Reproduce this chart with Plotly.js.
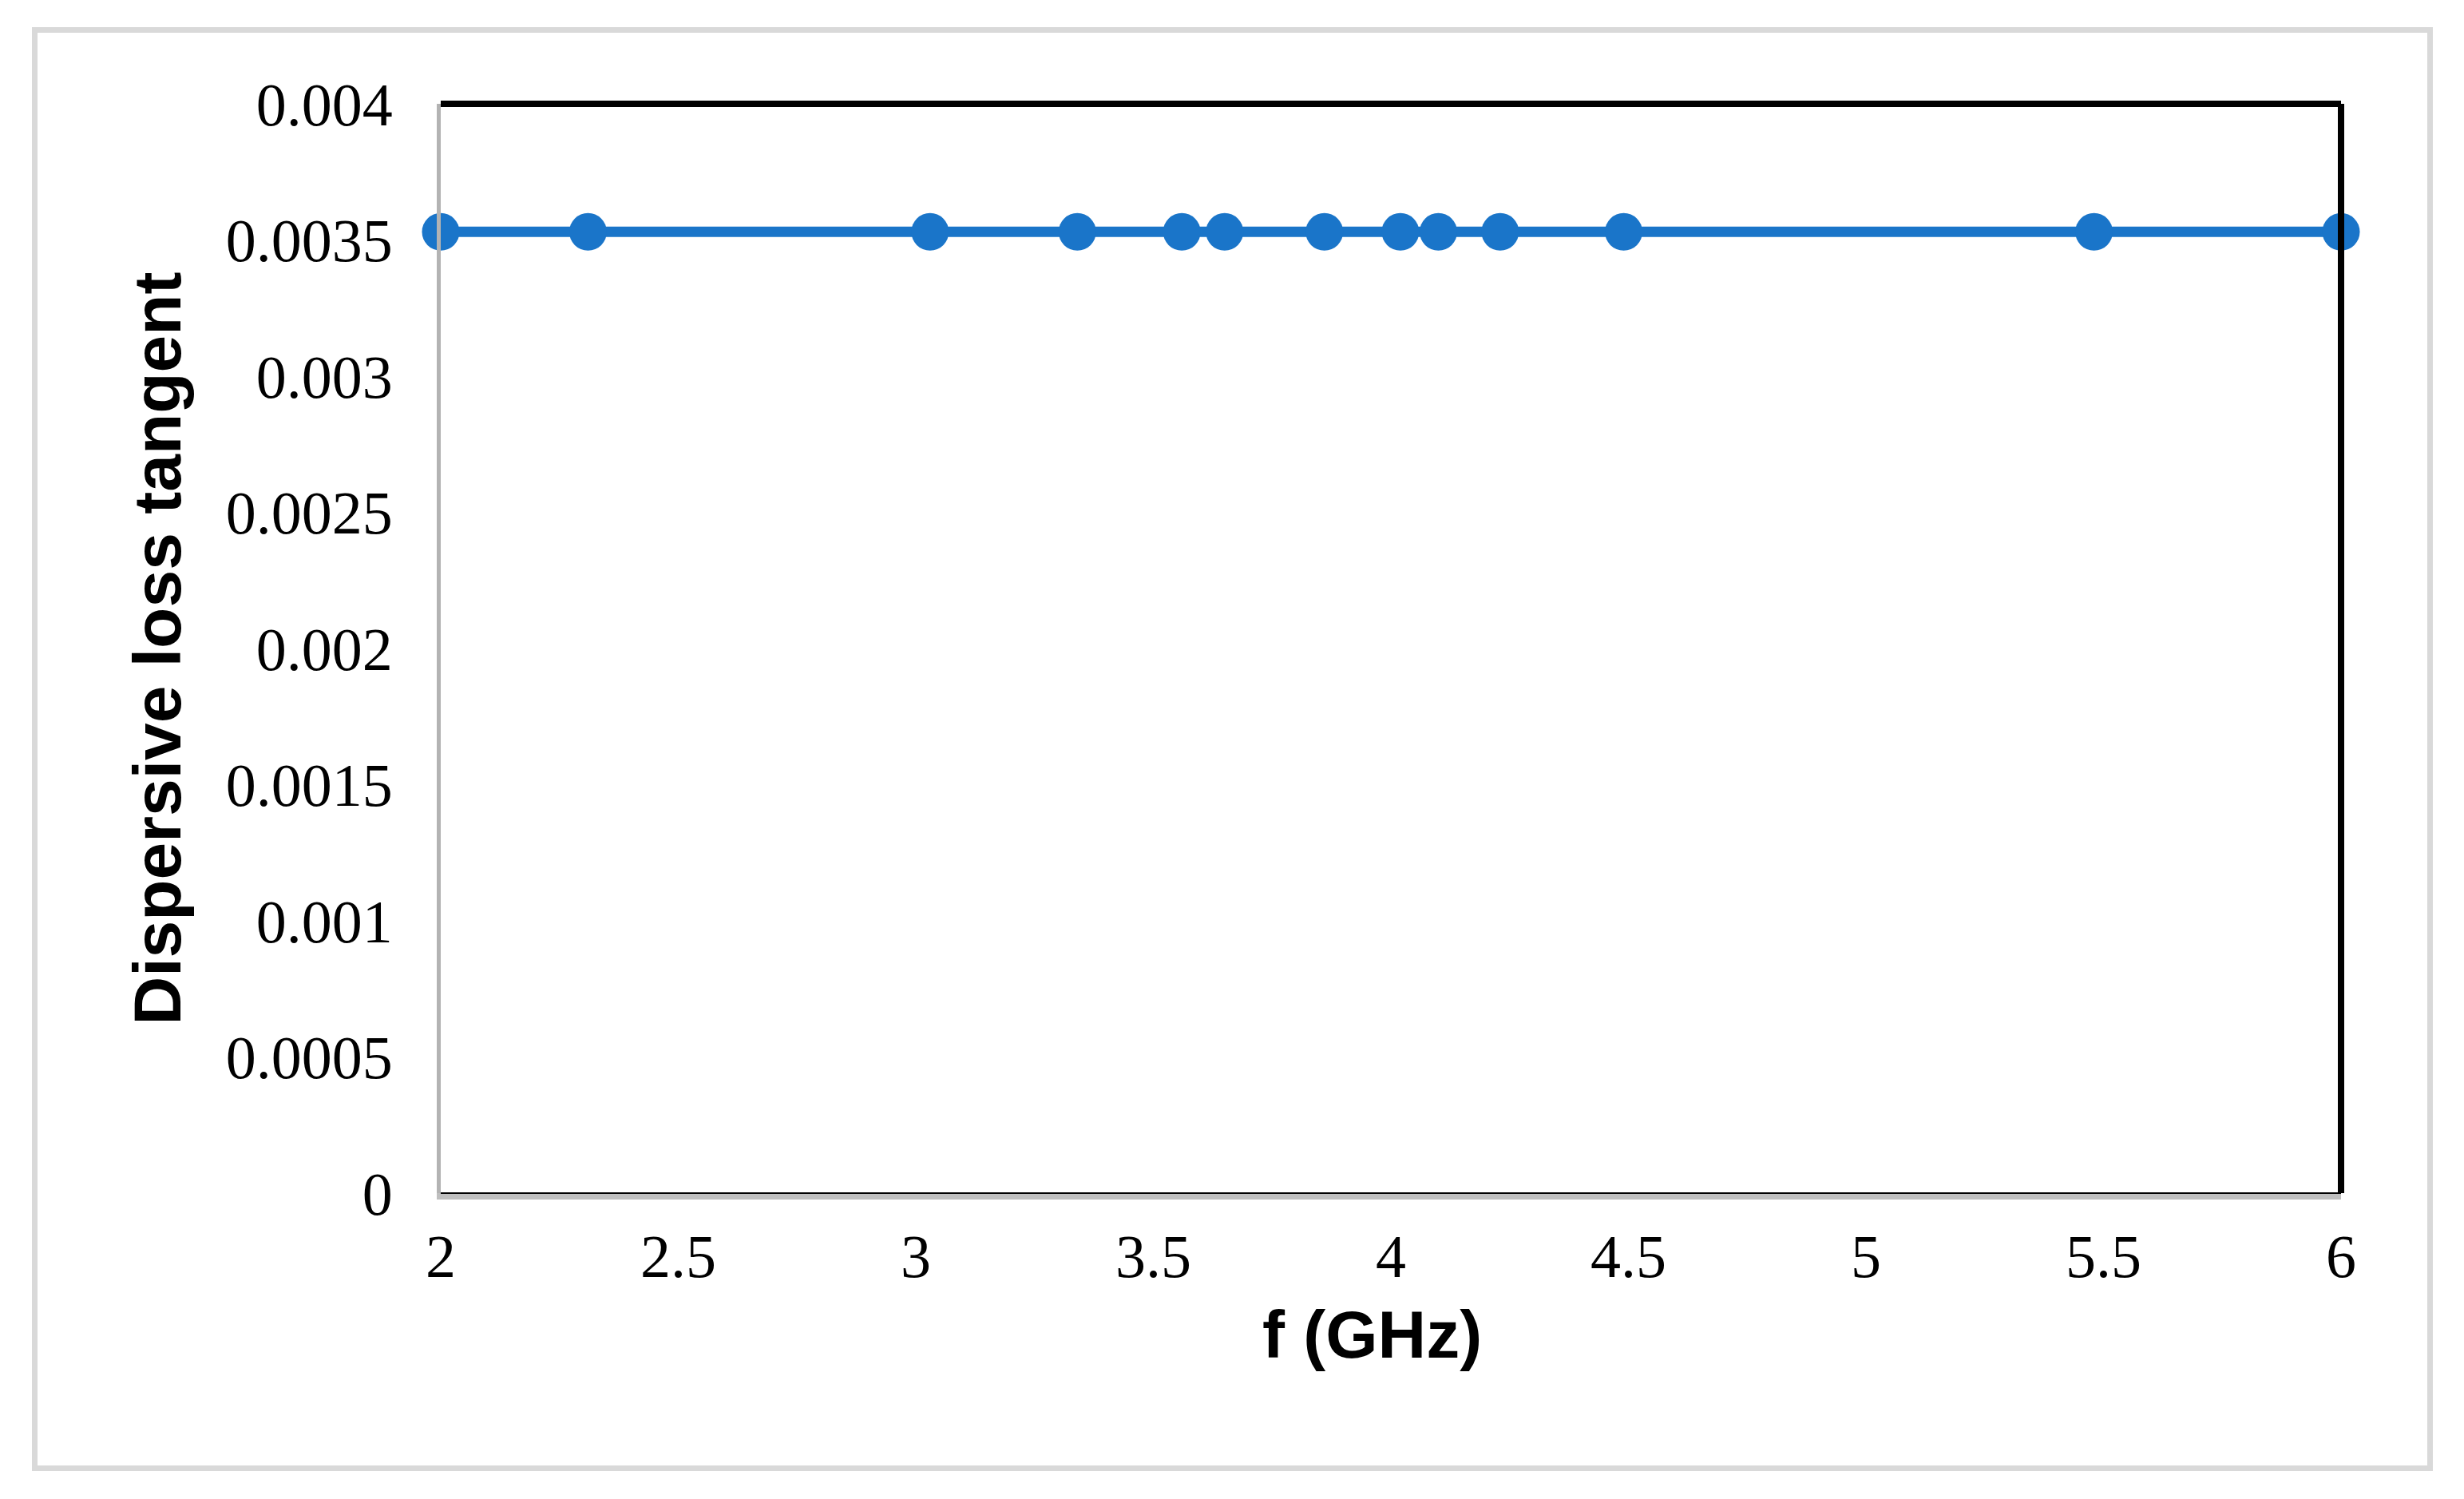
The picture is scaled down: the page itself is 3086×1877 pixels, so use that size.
<!DOCTYPE html>
<html>
<head>
<meta charset="utf-8">
<script src="https://cdn.plot.ly/plotly-3.0.1.min.js"></script>
<style>
  body { margin: 0; background: #ffffff; }
  #chart { position: absolute; left: 0; top: 0; width: 3086px; height: 1877px; }
  /* light grey frame round the whole chart */
  #frame {
    position: absolute; left: 40px; top: 34px; width: 3007px; height: 1808px;
    box-sizing: border-box; border: 7px solid #d9d9d9; pointer-events: none;
  }
</style>
</head>
<body>
<div id="chart"></div>
<div id="frame"></div>
<script>
// Frequency points (GHz) and dispersive loss tangent
const freq = [2, 2.31, 3.03, 3.34, 3.56, 3.65, 3.86, 4.02, 4.10, 4.23, 4.49, 5.48, 6];
const lossTangent = [0.00353, 0.00353, 0.00353, 0.00353, 0.00353, 0.00353, 0.00353,
                     0.00353, 0.00353, 0.00353, 0.00353, 0.00353, 0.00353];

// Tick labels
const xTickVals = [2, 2.5, 3, 3.5, 4, 4.5, 5, 5.5, 6];
const xTickText = ['2', '2.5', '3', '3.5', '4', '4.5', '5', '5.5', '6'];
const yTickVals = [0, 0.0005, 0.001, 0.0015, 0.002, 0.0025, 0.003, 0.0035, 0.004];
const yTickText = ['0', '0.0005', '0.001', '0.0015', '0.002', '0.0025', '0.003', '0.0035', '0.004'];

const blue = '#1a75c9';
const tickFont = { family: 'Liberation Serif, serif', size: 76, color: '#000000' };
const titleFont = { family: 'Liberation Sans, Arial, sans-serif', size: 84, color: '#000000', weight: 'bold' };

const trace = {
    x: freq,
    y: lossTangent,
    type: 'scatter',
    mode: 'lines+markers',
    line: { color: blue, width: 13 },
    marker: { color: blue, size: 47 },
    cliponaxis: false,
    hoverinfo: 'x+y'
};

const layout = {
    width: 3086,
    height: 1877,
    margin: { l: 552, r: 154, t: 130, b: 383 },
    paper_bgcolor: '#ffffff',
    plot_bgcolor: '#ffffff',
    showlegend: false,
    xaxis: {
        range: [2, 6],
        tickvals: xTickVals,
        ticktext: xTickText,
        tickfont: tickFont,
        ticks: '',
        ticklabelstandoff: 6,
        showgrid: false,
        zeroline: false,
        showline: true,
        linecolor: '#bfbfbf',
        linewidth: 8
    },
    yaxis: {
        range: [0, 0.004],
        tickvals: yTickVals,
        ticktext: yTickText,
        tickfont: tickFont,
        ticks: '',
        ticklabelstandoff: 40,
        showgrid: false,
        zeroline: false,
        showline: true,
        linecolor: '#b3b3b3',
        linewidth: 5,
        title: { text: 'Dispersive loss tangent', font: titleFont, standoff: 30 }
    },
    // x title sits a little left of the plot centre, like the original
    annotations: [
        { text: 'f (GHz)', font: titleFont, showarrow: false,
          xref: 'paper', yref: 'paper', x: 0.49, y: 0,
          xanchor: 'center', yanchor: 'middle', yshift: -177 }
    ],
    // black top and right border of the plot box, thin dark edge over the grey base
    shapes: [
        { type: 'line', xref: 'paper', yref: 'paper', x0: 0, x1: 1, y0: 1, y1: 1,
          line: { color: '#000000', width: 8 } },
        { type: 'line', xref: 'paper', yref: 'paper', x0: 1, x1: 1, y0: 0, y1: 1,
          line: { color: '#000000', width: 8 } },
        { type: 'line', xref: 'paper', yref: 'paper', x0: 0, x1: 1, y0: 0, y1: 0,
          line: { color: '#000000', width: 2 } }
    ]
};

Plotly.newPlot('chart', [trace], layout, { displayModeBar: false, staticPlot: true });
</script>
</body>
</html>
